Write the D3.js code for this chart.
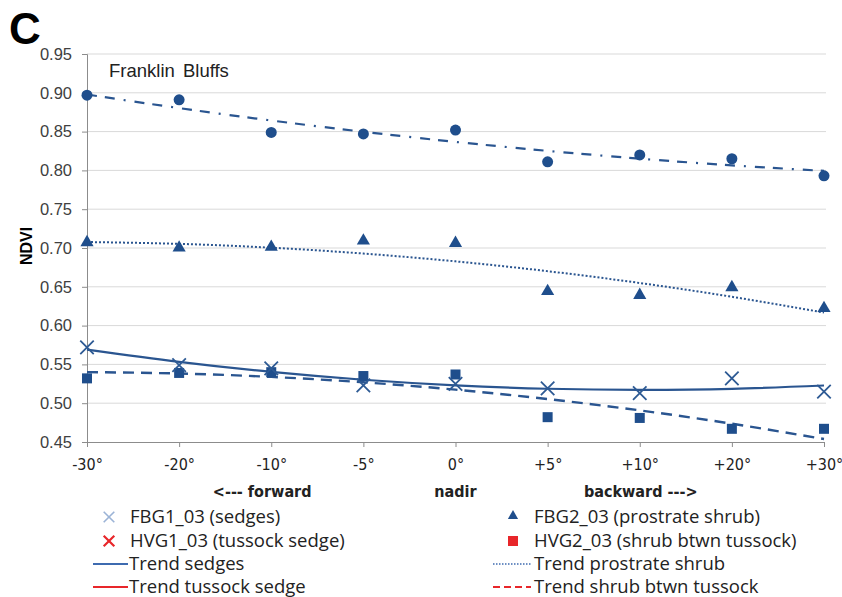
<!DOCTYPE html>
<html>
<head>
<meta charset="utf-8">
<script src="https://cdn.jsdelivr.net/npm/d3@7"></script>
<style>
  body { margin: 0; background: #fff; }
  svg { display: block; }
  .grid line { stroke: #d9d9d9; stroke-width: 1; }
  .axis path, .axis line { stroke: #8c8c8c; }
  .ytick text { font-family: "Liberation Sans", Arial, sans-serif; font-size: 16.5px; fill: #404040; }
  .xtick text { font-family: "Liberation Sans Narrow", "DejaVu Sans Condensed", sans-serif; font-size: 16px; fill: #222; }
  .lg text { font-family: "Open Sans", "Liberation Sans", sans-serif; font-size: 18.5px; fill: #222; }
</style>
</head>
<body>
<svg id="chart" width="842" height="597"></svg>
<script>
'use strict';

// categories (view angle)
const angles = ['-30°', '-20°', '-10°', '-5°', '0°', '+5°', '+10°', '+20°', '+30°'];
const yTicks = [0.45, 0.50, 0.55, 0.60, 0.65, 0.70, 0.75, 0.80, 0.85, 0.90, 0.95];

// values
const circles   = [0.897, 0.891, 0.849, 0.847, 0.852, 0.811, 0.820, 0.815, 0.793];
const triangles = [0.706, 0.699, 0.700, 0.708, 0.705, 0.643, 0.638, 0.648, 0.621];
const crosses   = [0.572, 0.549, 0.545, 0.523, 0.525, 0.519, 0.513, 0.532, 0.515];
const squares   = [0.532, 0.539, 0.540, 0.535, 0.537, 0.482, 0.481, 0.467, 0.467];

const legendLeft = ['FBG1_03 (sedges)', 'HVG1_03 (tussock sedge)', 'Trend sedges', 'Trend tussock sedge'];
const legendRight = ['FBG2_03 (prostrate shrub)', 'HVG2_03 (shrub btwn tussock)', 'Trend prostrate shrub', 'Trend shrub btwn tussock'];

const blue = '#1f4e8c';
const red = '#e8262a';

const svg = d3.select('#chart');

const x = d3.scalePoint().domain(angles).range([87, 824]);
const y = d3.scaleLinear().domain([0.45, 0.95]).range([442, 54]);

// least squares polynomial (order 2) trend, like a spreadsheet trendline
function polyTrend(vals) {
    const xs = vals.map((v, i) => i + 1);
    const S = k => d3.sum(xs, v => Math.pow(v, k));
    const T = k => d3.sum(vals, (v, i) => v * Math.pow(xs[i], k));
    const A = [[S(0), S(1), S(2)], [S(1), S(2), S(3)], [S(2), S(3), S(4)]];
    const b = [T(0), T(1), T(2)];
    // gauss elimination
    for (let i = 0; i < 3; i++) {
        for (let j = i + 1; j < 3; j++) {
            const f = A[j][i] / A[i][i];
            for (let k = i; k < 3; k++) A[j][k] -= f * A[i][k];
            b[j] -= f * b[i];
        }
    }
    const c = [0, 0, 0];
    for (let i = 2; i >= 0; i--) {
        let s = b[i];
        for (let k = i + 1; k < 3; k++) s -= A[i][k] * c[k];
        c[i] = s / A[i][i];
    }
    return xs.map(v => c[0] + c[1] * v + c[2] * v * v);
}

// grid
svg.append('g').attr('class', 'grid')
    .selectAll('line').data(yTicks.slice(1)).enter().append('line')
    .attr('x1', 87).attr('x2', 826)
    .attr('y1', d => y(d)).attr('y2', d => y(d));

// axes
svg.append('g').attr('class', 'axis ytick')
    .attr('transform', 'translate(87,0)')
    .call(d3.axisLeft(y).tickValues(yTicks).tickFormat(d3.format('.2f')).tickSizeOuter(0).tickSize(5).tickPadding(10));
svg.append('g').attr('class', 'axis xtick')
    .attr('transform', 'translate(0,442)')
    .call(d3.axisBottom(x).tickSizeOuter(0).tickSize(5).tickPadding(12));
svg.selectAll('.axis .domain').attr('stroke', '#8c8c8c');

// trend lines
const line = d3.line().x((d, i) => x(angles[i])).y(d => y(d)).curve(d3.curveNatural);

const trends = [
    [circles, '10,8,10,9,2,9', 2.2],
    [triangles, '2,2', 2],
    [crosses, null, 2.2],
    [squares, '11,7', 2.4]
];
trends.forEach(t => {
    svg.append('path')
        .attr('d', line(polyTrend(t[0])))
        .attr('fill', 'none')
        .attr('stroke', '#2a5590')
        .attr('stroke-width', t[2])
        .attr('stroke-dasharray', t[1]);
});

// markers
svg.append('g').selectAll('circle').data(circles).enter().append('circle')
    .attr('cx', (d, i) => x(angles[i])).attr('cy', d => y(d))
    .attr('r', 5.5).attr('fill', blue);

const tri = d3.symbol().type(d3.symbolTriangle).size(75);
svg.append('g').selectAll('path').data(triangles).enter().append('path')
    .attr('d', tri)
    .attr('transform', (d, i) => 'translate(' + x(angles[i]) + ',' + (y(d) - 1) + ')')
    .attr('fill', blue);

svg.append('g').selectAll('rect').data(squares).enter().append('rect')
    .attr('x', (d, i) => x(angles[i]) - 5).attr('y', d => y(d) - 5)
    .attr('width', 10).attr('height', 10).attr('fill', blue);

const cross = d3.symbol().type(d3.symbolX).size(120);
svg.append('g').selectAll('path').data(crosses).enter().append('path')
    .attr('d', cross)
    .attr('transform', (d, i) => 'translate(' + x(angles[i]) + ',' + y(d) + ')')
    .attr('fill', 'none').attr('stroke', '#2d5a94').attr('stroke-width', 1.8);

// texts
svg.append('text').attr('x', 9).attr('y', 44)
    .style('font-family', '"Liberation Sans", Arial, sans-serif')
    .style('font-size', '44px').style('font-weight', 'bold').text('C');
svg.append('text').attr('x', 109).attr('y', 77)
    .style('font-family', '"Liberation Sans", Arial, sans-serif')
    .style('font-size', '18.5px').style('word-spacing', '3px').attr('fill', '#222').text('Franklin Bluffs');
svg.append('text')
    .attr('transform', 'translate(32,246) rotate(-90)')
    .attr('text-anchor', 'middle')
    .style('font-family', '"Liberation Sans", Arial, sans-serif')
    .style('font-size', '16px').style('font-weight', 'bold').text('NDVI');

const dirLabels = [['<--- forward', '-20°', '-10°', 37], ['nadir', '0°', '0°', 0], ['backward --->', '+5°', '+10°', 47]];
dirLabels.forEach(l => {
    svg.append('text')
        .attr('x', (x(l[1]) + x(l[2])) / 2 + l[3])
        .attr('y', 497).attr('text-anchor', 'middle')
        .style('font-family', '"Liberation Sans Narrow", "DejaVu Sans Condensed", sans-serif')
        .style('font-size', '16px').style('font-weight', 'bold').attr('fill', '#222')
        .text(l[0]);
});

// legend
const lg = svg.append('g').attr('class', 'lg');
const rowY = [517, 541, 564, 587];

// left column
lg.append('path').attr('d', cross.size(75)()).attr('transform', 'translate(109,' + rowY[0] + ')')
    .attr('fill', 'none').attr('stroke', '#9bb3d6').attr('stroke-width', 1.6);
lg.append('path').attr('d', cross.size(75)()).attr('transform', 'translate(109,' + rowY[1] + ')')
    .attr('fill', 'none').attr('stroke', red).attr('stroke-width', 2.2);
lg.append('line').attr('x1', 93).attr('x2', 128).attr('y1', rowY[2]).attr('y2', rowY[2])
    .attr('stroke', '#3e6bb0').attr('stroke-width', 2);
lg.append('line').attr('x1', 93).attr('x2', 128).attr('y1', rowY[3]).attr('y2', rowY[3])
    .attr('stroke', red).attr('stroke-width', 2);
legendLeft.forEach((t, i) => {
    lg.append('text').attr('x', i < 2 ? 130 : 129).attr('y', rowY[i] + 6).text(t);
});

// right column
lg.append('path').attr('d', d3.symbol().type(d3.symbolTriangle).size(45)())
    .attr('transform', 'translate(513,' + (rowY[0] - 1) + ')').attr('fill', blue);
lg.append('rect').attr('x', 508).attr('y', rowY[1] - 5).attr('width', 10).attr('height', 10).attr('fill', red);
lg.append('line').attr('x1', 493).attr('x2', 531).attr('y1', rowY[2]).attr('y2', rowY[2])
    .attr('stroke', '#3e6bb0').attr('stroke-width', 1.5).attr('stroke-dasharray', '1.5,1.5');
lg.append('line').attr('x1', 493).attr('x2', 531).attr('y1', rowY[3]).attr('y2', rowY[3])
    .attr('stroke', red).attr('stroke-width', 2).attr('stroke-dasharray', '7,4');
legendRight.forEach((t, i) => {
    lg.append('text').attr('x', 534).attr('y', rowY[i] + 6).text(t);
});
</script>
</body>
</html>
